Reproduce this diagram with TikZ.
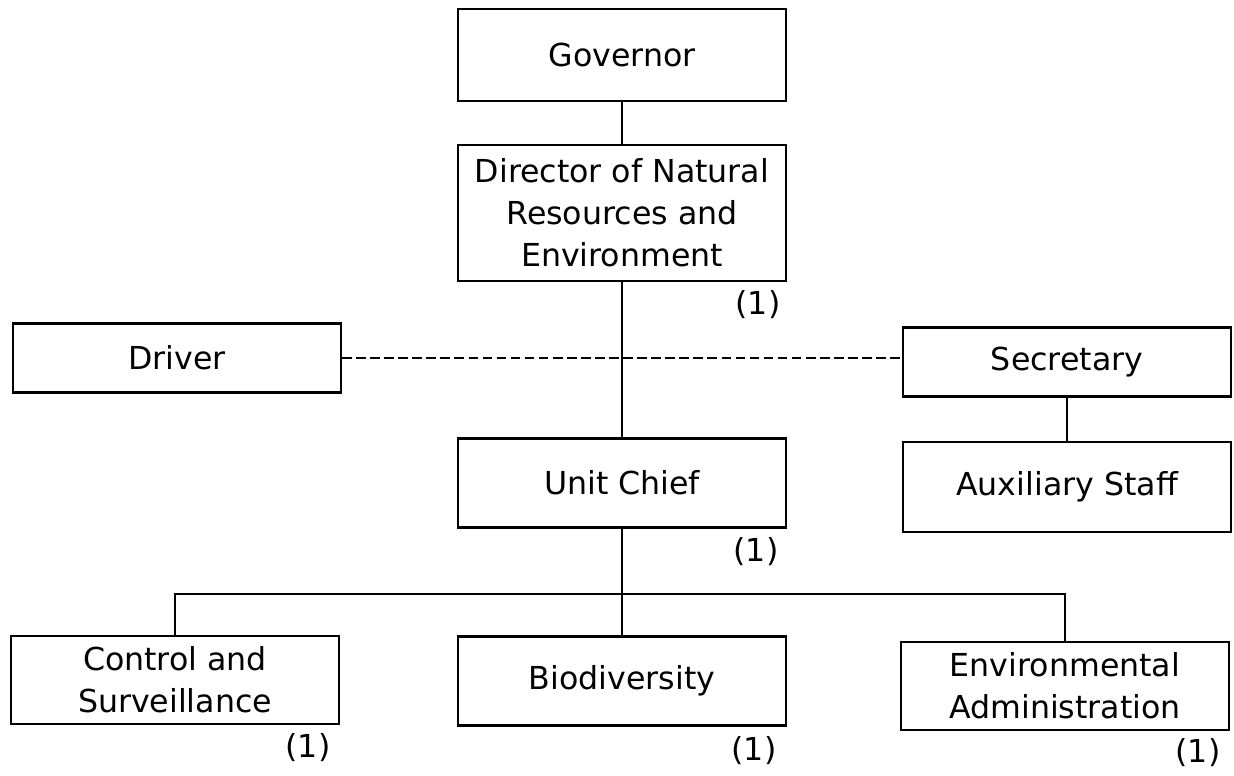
\documentclass[tikz,border=0pt]{standalone}
\usepackage{fontspec}
\setmainfont{DejaVu Sans}

\begin{document}
\begin{tikzpicture}[x=0.02cm,y=-0.02cm,
  box/.style={draw,line width=1.2pt,align=center,minimum width=6.56cm,inner sep=0pt,font=\fontsize{18}{24}\selectfont},
  count/.style={font=\fontsize{18}{24}\selectfont,inner sep=0pt},
  link/.style={line width=1.2pt}]
\useasboundingbox (0,0) rectangle (1234,775);
\node[box,minimum height=1.84cm] (gov) at (622,55) {Governor}; % Governor
\node[box,minimum height=2.72cm] (dir) at (622,213) {Director of Natural\\Resources and\\Environment}; % Director
\node[box,minimum height=1.38cm] (drv) at (177,358) {Driver}; % Driver
\node[box,minimum height=1.38cm] (sec) at (1067,362) {Secretary}; % Secretary
\node[box,minimum height=1.80cm] (aux) at (1067,487) {Auxiliary Staff}; % Auxiliary Staff
\node[box,minimum height=1.78cm] (unit) at (622,483) {Unit Chief}; % Unit Chief
\node[box,minimum height=1.76cm] (ctrl) at (175,680) {Control and\\Surveillance}; % Control
\node[box,minimum height=1.78cm] (bio) at (622,681) {Biodiversity}; % Biodiversity
\node[box,minimum height=1.76cm] (env) at (1065,686) {Environmental\\Administration}; % Env. Admin.
\node[count] (dirN) at (758,305) {(1)}; % Director
\node[count] (unitN) at (756,552) {(1)}; % Unit Chief
\node[count] (ctrlN) at (308,748) {(1)}; % Control
\node[count] (bioN) at (754,751) {(1)}; % Biodiversity
\node[count] (envN) at (1198,753) {(1)}; % Env. Admin.
\coordinate (bus) at (622,594);
\draw[link] (gov) -- (dir); % gov to dir
\draw[link,dash pattern=on 5.5pt off 2.5pt,line width=1pt] (drv.east) -- (drv.east -| sec.west); % staff line
\draw[link] (dir) -- (unit); % dir to unit
\draw[link] (sec) -- (aux); % sec to aux
\draw[link] (unit) -- (bio); % unit to bio
\draw[link] (ctrl.north) |- (bus) -| (env.north); % bus

\end{tikzpicture}
\end{document}
